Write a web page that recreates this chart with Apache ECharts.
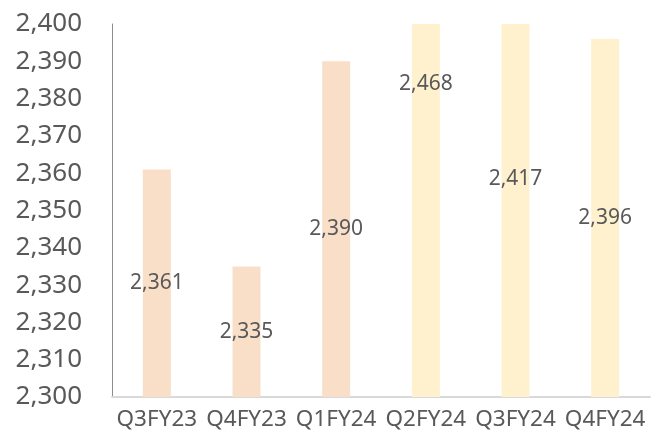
<!DOCTYPE html>
<html><head><meta charset="utf-8">
<script src="https://cdn.jsdelivr.net/npm/echarts@6/dist/echarts.min.js"></script>
<style>html,body{margin:0;padding:0;background:#fff}#c{width:664px;height:437px}</style>
</head><body><div id="c"></div>
<script>
const categories = ['Q3FY23','Q4FY23','Q1FY24','Q2FY24','Q3FY24','Q4FY24'];
const values = [2361, 2335, 2390, 2468, 2417, 2396];
const axisMin = 2300, axisMax = 2400, axisStep = 10;
const barColors = ['#F9DFC7','#F9DFC7','#F9DFC7','#FFF1CD','#FFF1CD','#FFF1CD'];

const fmt = v => Number(v).toLocaleString('en-US');
const chart = echarts.init(document.getElementById('c'));
chart.setOption({
  animation: false,
  grid: {left: 112, right: 14, top: 24, bottom: 40},
  xAxis: {
    type: 'category', data: categories,
    axisLine: {lineStyle: {color: '#D9D9D9', width: 2}},
    axisTick: {show: false},
    axisLabel: {color: '#595959', fontSize: 22.5, fontFamily: 'Noto Sans', margin: 11, interval: 0, hideOverlap: false}
  },
  yAxis: {
    type: 'value', min: axisMin, max: axisMax, interval: axisStep,
    axisLine: {show: true, lineStyle: {color: '#8C8C8C', width: 1}},
    axisTick: {show: false},
    splitLine: {show: false},
    axisLabel: {color: '#595959', fontSize: 26, fontFamily: 'Noto Sans', margin: 30, formatter: fmt}
  },
  series: [{
    type: 'bar', data: values, barWidth: 28, clip: true,
    itemStyle: {color: p => barColors[p.dataIndex]}
  }, {
    type: 'scatter', symbolSize: 0, silent: true,
    itemStyle: {opacity: 1},
    data: values.map((v, i) => [i, (axisMin + v) / 2, v]),
    label: {show: true, position: 'inside', color: '#595959', fontSize: 21, fontFamily: 'Noto Sans',
      formatter: p => fmt(p.value[2])}
  }]
});
</script></body></html>
